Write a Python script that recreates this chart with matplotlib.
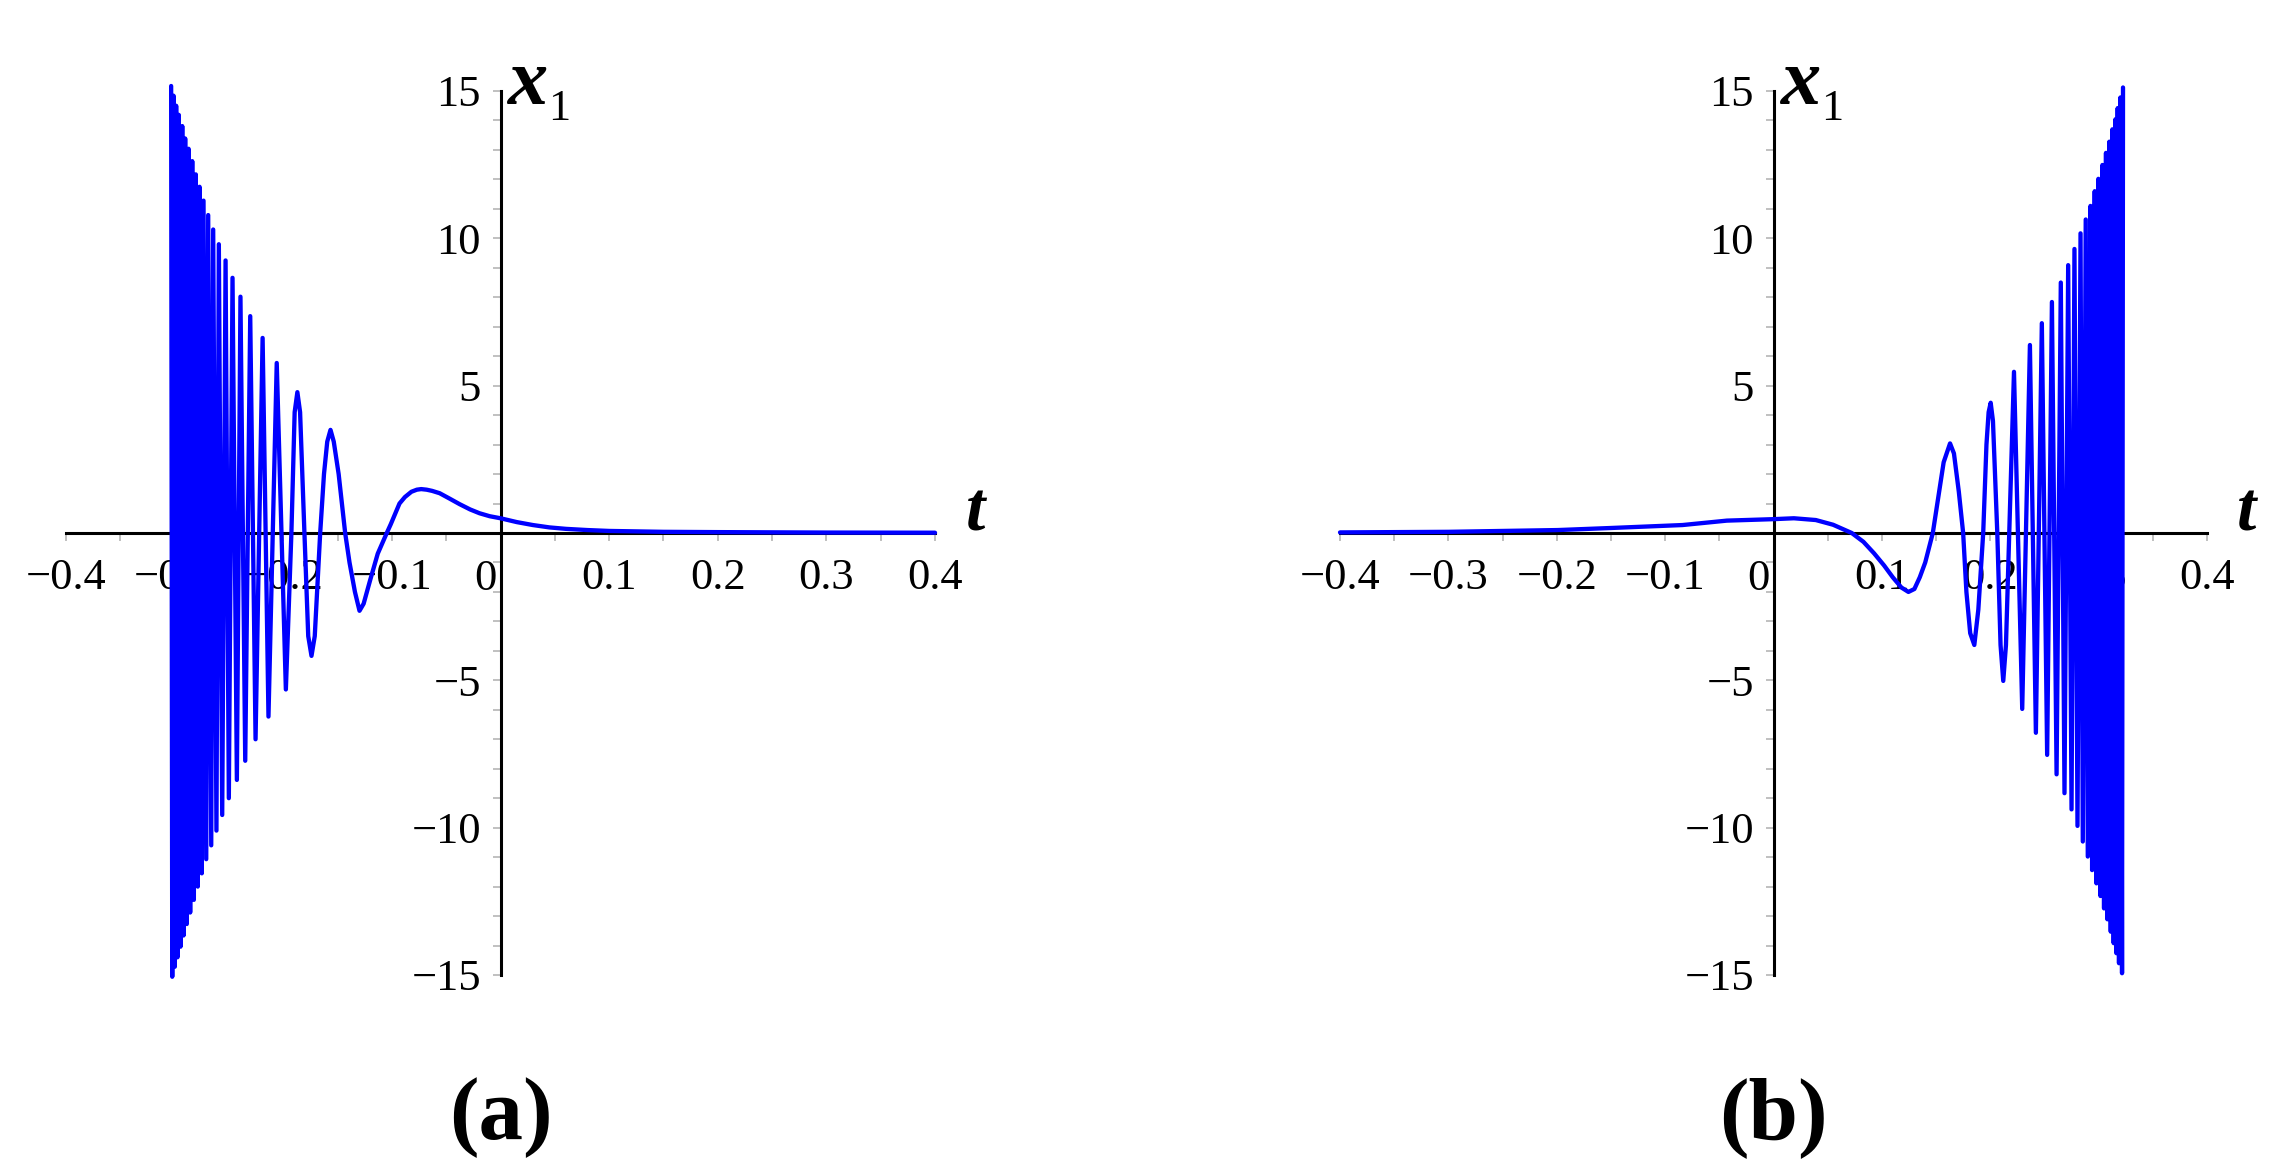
import matplotlib
matplotlib.use("Agg")
import matplotlib.pyplot as plt
from matplotlib.ticker import MultipleLocator

# panel (a): extrema / sample points (t, x1)
t_a = [-0.3032, -0.3022, -0.3010, -0.2998, -0.2986, -0.2974, -0.2962, -0.2946,
       -0.2930, -0.2918, -0.2903, -0.2888, -0.2872, -0.2857, -0.2838, -0.2823,
       -0.2805, -0.2787, -0.2771, -0.2750, -0.2734, -0.2709, -0.2691, -0.2663,
       -0.2645, -0.2615, -0.2593, -0.2562, -0.2531, -0.2501, -0.2467, -0.2427,
       -0.2394, -0.2350, -0.2304, -0.2255, -0.2190, -0.2136, -0.2060, -0.1976,
       -0.1925, -0.1895, -0.1870, -0.1845, -0.1805, -0.1770, -0.1740, -0.1710,
       -0.1660, -0.1625, -0.1595, -0.1565, -0.1535, -0.1490, -0.1430, -0.1390,
       -0.1340, -0.1298, -0.1260, -0.1200, -0.1130, -0.1047, -0.1010, -0.0970,
       -0.0930, -0.0880, -0.0820, -0.0770, -0.0730, -0.0680, -0.0630, -0.0560,
       -0.0470, -0.0377, -0.0280, -0.0193, -0.0100, 0.0, 0.015, 0.0298,
       0.045, 0.0604, 0.08, 0.10, 0.15, 0.20, 0.30, 0.40]
x_a = [15.17, -15.06, 14.84, -14.72, 14.50, -14.40, 14.19, -14.04,
       13.81, -13.66, 13.39, -13.27, 13.04, -12.88, 12.62, -12.45,
       12.17, -12.00, 11.75, -11.55, 11.28, -11.07, 10.79, -10.60,
       10.30, -10.10, 9.80, -9.57, 9.25, -9.00, 8.66, -8.38,
       8.02, -7.73, 7.36, -7.00, 6.62, -6.23, 5.77, -5.31,
       0.0, 4.10, 4.78, 4.10, 0.0, -3.50, -4.17, -3.50,
       0.0, 2.00, 3.10, 3.50, 3.10, 2.00, 0.0, -1.00,
       -2.00, -2.64, -2.40, -1.60, -0.70, 0.0, 0.30, 0.65,
       1.00, 1.22, 1.40, 1.47, 1.49, 1.47, 1.43, 1.35,
       1.17, 0.98, 0.80, 0.67, 0.57, 0.50, 0.37, 0.27,
       0.19, 0.14, 0.10, 0.07, 0.04, 0.03, 0.015, 0.01]

# panel (b)
t_b = [-0.40, -0.30, -0.199, -0.15, -0.084, -0.043, 0.0, 0.0188, 0.039, 0.055,
       0.0722, 0.083, 0.0928, 0.102, 0.110, 0.118, 0.1245, 0.130, 0.135, 0.140,
       0.147, 0.152, 0.157, 0.1629, 0.1665, 0.171, 0.175, 0.178, 0.1815, 0.1853,
       0.189, 0.1935, 0.1965, 0.1985, 0.2004, 0.2025, 0.2065, 0.2095, 0.2120,
       0.2145, 0.2219, 0.2295, 0.2366, 0.2421, 0.2476, 0.2525, 0.2569, 0.2612,
       0.2651, 0.2685, 0.2719, 0.2750, 0.2777, 0.2805, 0.2833, 0.2854, 0.2881,
       0.2900, 0.2925, 0.2940, 0.2964, 0.2980, 0.2998, 0.3017, 0.3035, 0.3050,
       0.3068, 0.3081, 0.3099, 0.3112, 0.3127, 0.3139, 0.3155, 0.3164, 0.3176,
       0.3188, 0.3201, 0.3216, 0.3225]
x_b = [0.02, 0.04, 0.10, 0.17, 0.27, 0.42, 0.47, 0.50, 0.44, 0.28,
       0.0, -0.30, -0.69, -1.10, -1.50, -1.85, -2.00, -1.90, -1.50, -1.00,
       0.0, 1.20, 2.40, 3.04, 2.70, 1.40, 0.0, -2.00, -3.40, -3.80,
       -2.60, 0.0, 3.00, 4.10, 4.42, 3.80, 0.0, -3.80, -5.02,
       -3.80, 5.47, -5.97, 6.38, -6.78, 7.12, -7.53, 7.84, -8.19,
       8.50, -8.83, 9.09, -9.38, 9.64, -9.94, 10.17, -10.47, 10.64,
       -10.98, 11.10, -11.44, 11.60, -11.89, 12.02, -12.32, 12.49, -12.74,
       12.90, -13.11, 13.28, -13.53, 13.70, -13.92, 14.04, -14.26, 14.42,
       -14.60, 14.78, -14.94, 15.12]

xticks = [-0.4, -0.3, -0.2, -0.1, 0.1, 0.2, 0.3, 0.4]
yticks = [-15, -10, -5, 5, 10, 15]
panel_names = ["(a)", "(b)"]

plt.rcParams["font.family"] = ["Liberation Serif", "DejaVu Serif"]

W, H = 2292, 1164
fig = plt.figure(figsize=(W / 100, H / 100), dpi=100)

# axes boxes in pixels: left, right, top, bottom
boxes = [(66, 935, 91, 975), (1340, 2207, 91, 975)]


def fmt(v):
    return ("%g" % v).replace("-", "\u2212")


for (l, r, tp, bt), t, x, name in zip(boxes, [t_a, t_b], [x_a, x_b], panel_names):
    ax = fig.add_axes([l / W, 1 - bt / H, (r - l) / W, (bt - tp) / H])
    ax.plot(t, x, color="#0000ff", lw=3.1, clip_on=False,
            solid_joinstyle="round", solid_capstyle="round", zorder=3)
    ax.set_xlim(-0.4, 0.4)
    ax.set_ylim(-15, 15)
    for s in ["top", "right"]:
        ax.spines[s].set_visible(False)
    for s in ["left", "bottom"]:
        ax.spines[s].set_position(("data", 0))
        ax.spines[s].set_linewidth(2.2)
        ax.spines[s].set_zorder(2)
    ax.set_xticks(xticks)
    ax.set_xticklabels([fmt(v) for v in xticks])
    ax.set_yticks(yticks)
    ax.set_yticklabels([fmt(v) for v in yticks])
    ax.xaxis.set_minor_locator(MultipleLocator(0.05))
    ax.yaxis.set_minor_locator(MultipleLocator(1))
    ax.tick_params(which="both", direction="out", length=6, width=1.2,
                   color="#b5b5b5", labelsize=32)
    ax.tick_params(axis="x", pad=12)
    ax.tick_params(axis="y", pad=8)
    ax.patch.set_alpha(0)

    ax.text(-0.0143, -1.55, "0", ha="center", va="center", fontsize=32)
    ax.text(0.428, 0.1, "t", ha="left", va="baseline", fontsize=50,
            style="italic", fontweight="bold")
    ax.text(0.007, 14.55, "x", ha="left", va="baseline", fontsize=58,
            style="italic", fontweight="bold", clip_on=False)
    ax.text(0.044, 14.0, "1", ha="left", va="baseline", fontsize=32, clip_on=False)

    fig.text(((l + r) / 2) / W, 1 - 1118 / H, name, ha="center", va="center",
             fontsize=64, fontweight="bold")

fig.savefig("out.png", dpi=100)
